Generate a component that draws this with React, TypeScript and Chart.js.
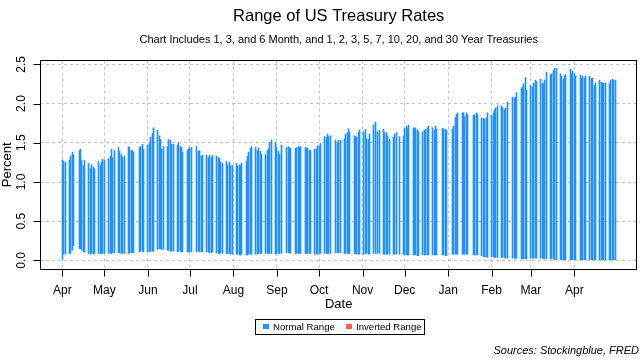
import React, { useEffect, useRef } from "react";
import { Chart, registerables } from "chart.js";

Chart.register(...registerables);

// ---- Data ----
const months: [number, number][] = [
  [2020, 4], [2020, 5], [2020, 6], [2020, 7], [2020, 8], [2020, 9], [2020, 10],
  [2020, 11], [2020, 12], [2021, 1], [2021, 2], [2021, 3], [2021, 4],
];

const tradingDays: number[][] = [
  [1, 2, 3, 6, 7, 8, 9, 13, 14, 15, 16, 17, 20, 21, 22, 23, 24, 27, 28, 29, 30],
  [1, 4, 5, 6, 7, 8, 11, 12, 13, 14, 15, 18, 19, 20, 21, 22, 26, 27, 28, 29],
  [1, 2, 3, 4, 5, 8, 9, 10, 11, 12, 15, 16, 17, 18, 19, 22, 23, 24, 25, 26, 29, 30],
  [1, 2, 6, 7, 8, 9, 10, 13, 14, 15, 16, 17, 20, 21, 22, 23, 24, 27, 28, 29, 30, 31],
  [3, 4, 5, 6, 7, 10, 11, 12, 13, 14, 17, 18, 19, 20, 21, 24, 25, 26, 27, 28, 31],
  [1, 2, 3, 4, 8, 9, 10, 11, 14, 15, 16, 17, 18, 21, 22, 23, 24, 25, 28, 29, 30],
  [1, 2, 5, 6, 7, 8, 9, 13, 14, 15, 16, 19, 20, 21, 22, 23, 26, 27, 28, 29, 30],
  [2, 3, 4, 5, 6, 9, 10, 12, 13, 16, 17, 18, 19, 20, 23, 24, 25, 27, 30],
  [1, 2, 3, 4, 7, 8, 9, 10, 11, 14, 15, 16, 17, 18, 21, 22, 23, 24, 28, 29, 30, 31],
  [4, 5, 6, 7, 8, 11, 12, 13, 14, 15, 19, 20, 21, 22, 25, 26, 27, 28, 29],
  [1, 2, 3, 4, 5, 8, 9, 10, 11, 12, 16, 17, 18, 19, 22, 23, 24, 25, 26],
  [1, 2, 3, 4, 5, 8, 9, 10, 11, 12, 15, 16, 17, 18, 19, 22, 23, 24, 25, 26, 29, 30, 31],
  [1, 2, 5, 6, 7, 8, 9, 12, 13, 14, 15, 16, 19, 20, 21, 22, 23, 26, 27, 28, 29, 30],
];

const highRates: number[][] = [
  [1.28, 1.26, 1.25, 1.28, 1.33, 1.38, 1.35, 1.40, 1.42, 1.28, 1.21, 1.28, 1.24, 1.17, 1.22, 1.19, 1.17, 1.26, 1.21, 1.25, 1.29],
  [1.28, 1.30, 1.33, 1.42, 1.31, 1.40, 1.44, 1.39, 1.35, 1.31, 1.33, 1.45, 1.44, 1.40, 1.40, 1.38, 1.44, 1.45, 1.48, 1.42],
  [1.47, 1.49, 1.57, 1.62, 1.69, 1.66, 1.59, 1.54, 1.42, 1.45, 1.45, 1.54, 1.53, 1.48, 1.48, 1.47, 1.50, 1.45, 1.44, 1.38, 1.40, 1.42],
  [1.44, 1.44, 1.45, 1.39, 1.40, 1.33, 1.34, 1.34, 1.31, 1.34, 1.31, 1.34, 1.33, 1.31, 1.30, 1.25, 1.24, 1.26, 1.22, 1.25, 1.21, 1.21],
  [1.24, 1.20, 1.22, 1.21, 1.24, 1.26, 1.33, 1.38, 1.43, 1.45, 1.44, 1.40, 1.43, 1.39, 1.35, 1.35, 1.40, 1.42, 1.50, 1.53, 1.50],
  [1.44, 1.39, 1.35, 1.47, 1.44, 1.45, 1.44, 1.43, 1.43, 1.44, 1.45, 1.44, 1.45, 1.44, 1.43, 1.43, 1.40, 1.40, 1.42, 1.42, 1.46],
  [1.46, 1.49, 1.58, 1.57, 1.61, 1.58, 1.59, 1.53, 1.50, 1.53, 1.53, 1.55, 1.61, 1.63, 1.68, 1.64, 1.59, 1.58, 1.57, 1.63, 1.66],
  [1.64, 1.67, 1.55, 1.54, 1.61, 1.73, 1.76, 1.64, 1.66, 1.67, 1.63, 1.63, 1.59, 1.54, 1.57, 1.61, 1.63, 1.58, 1.59],
  [1.68, 1.71, 1.68, 1.73, 1.69, 1.68, 1.69, 1.66, 1.64, 1.64, 1.66, 1.67, 1.69, 1.71, 1.69, 1.66, 1.71, 1.67, 1.68, 1.68, 1.67, 1.66],
  [1.67, 1.71, 1.82, 1.86, 1.88, 1.88, 1.88, 1.83, 1.88, 1.86, 1.85, 1.85, 1.88, 1.86, 1.81, 1.81, 1.80, 1.82, 1.88],
  [1.85, 1.88, 1.92, 1.94, 1.97, 1.97, 1.95, 1.92, 1.94, 2.02, 2.08, 2.07, 2.08, 2.14, 2.19, 2.21, 2.25, 2.33, 2.17],
  [2.23, 2.21, 2.26, 2.30, 2.28, 2.31, 2.26, 2.25, 2.30, 2.40, 2.37, 2.38, 2.42, 2.45, 2.45, 2.38, 2.35, 2.31, 2.35, 2.37, 2.44, 2.38, 2.41],
  [2.38, 2.35, 2.36, 2.32, 2.35, 2.32, 2.35, 2.35, 2.32, 2.32, 2.23, 2.26, 2.30, 2.27, 2.26, 2.26, 2.26, 2.25, 2.30, 2.31, 2.30, 2.30],
];

const lowRates: number[][] = [
  [0.01, 0.08, 0.08, 0.09, 0.09, 0.13, 0.19, 0.15, 0.15, 0.13, 0.11, 0.11, 0.09, 0.08, 0.09, 0.08, 0.09, 0.09, 0.09, 0.09, 0.09],
  [0.09, 0.09, 0.09, 0.09, 0.10, 0.10, 0.10, 0.10, 0.09, 0.09, 0.09, 0.09, 0.10, 0.10, 0.10, 0.10, 0.11, 0.12, 0.12, 0.11],
  [0.11, 0.11, 0.12, 0.12, 0.12, 0.14, 0.15, 0.15, 0.14, 0.14, 0.13, 0.13, 0.12, 0.12, 0.12, 0.11, 0.12, 0.12, 0.11, 0.11, 0.11, 0.11],
  [0.11, 0.11, 0.11, 0.12, 0.11, 0.11, 0.11, 0.11, 0.11, 0.10, 0.10, 0.11, 0.10, 0.09, 0.09, 0.10, 0.09, 0.09, 0.09, 0.09, 0.08, 0.08],
  [0.08, 0.08, 0.07, 0.07, 0.08, 0.07, 0.07, 0.08, 0.08, 0.08, 0.08, 0.08, 0.09, 0.09, 0.09, 0.09, 0.09, 0.09, 0.09, 0.09, 0.08],
  [0.09, 0.09, 0.09, 0.09, 0.10, 0.10, 0.10, 0.09, 0.09, 0.09, 0.09, 0.09, 0.09, 0.09, 0.09, 0.09, 0.09, 0.09, 0.08, 0.08, 0.08],
  [0.09, 0.09, 0.09, 0.09, 0.09, 0.09, 0.09, 0.10, 0.10, 0.10, 0.10, 0.09, 0.09, 0.09, 0.09, 0.09, 0.09, 0.09, 0.08, 0.08, 0.08],
  [0.08, 0.09, 0.09, 0.08, 0.08, 0.09, 0.09, 0.09, 0.09, 0.08, 0.08, 0.08, 0.08, 0.08, 0.08, 0.08, 0.08, 0.08, 0.08],
  [0.07, 0.07, 0.07, 0.07, 0.07, 0.07, 0.07, 0.06, 0.06, 0.07, 0.07, 0.07, 0.07, 0.07, 0.07, 0.07, 0.07, 0.07, 0.07, 0.07, 0.06, 0.06],
  [0.08, 0.08, 0.08, 0.08, 0.08, 0.08, 0.08, 0.08, 0.08, 0.08, 0.07, 0.07, 0.07, 0.07, 0.06, 0.05, 0.05, 0.05, 0.04],
  [0.05, 0.05, 0.04, 0.04, 0.04, 0.04, 0.04, 0.04, 0.03, 0.03, 0.03, 0.03, 0.03, 0.03, 0.02, 0.02, 0.02, 0.02, 0.02],
  [0.03, 0.03, 0.03, 0.03, 0.03, 0.03, 0.03, 0.02, 0.02, 0.02, 0.02, 0.02, 0.02, 0.01, 0.01, 0.01, 0.01, 0.01, 0.01, 0.01, 0.01, 0.01, 0.01],
  [0.01, 0.01, 0.01, 0.01, 0.01, 0.01, 0.01, 0.01, 0.01, 0.01, 0.00, 0.00, 0.00, 0.00, 0.00, 0.00, 0.00, 0.01, 0.01, 0.01, 0.00, 0.00],
];

const monthTickLabels = ["Apr", "May", "Jun", "Jul", "Aug", "Sep", "Oct", "Nov", "Dec", "Jan", "Feb", "Mar", "Apr"];
const yTickValues = [0, 0.5, 1.0, 1.5, 2.0, 2.5];

const TITLE = "Range of US Treasury Rates";
const SUBTITLE = "Chart Includes 1, 3, and 6 Month, and 1, 2, 3, 5, 7, 10, 20, and 30 Year Treasuries";
const SOURCE = "Sources: Stockingblue, FRED";

const NORMAL_COLOR = "#1E90FF";
const INVERTED_COLOR = "#FF6347";
const GRID_COLOR = "#c4c4c4";
const FONT = "'Liberation Sans', Arial, Helvetica, sans-serif";

// ---- helpers ----
const ORIGIN = Date.UTC(2020, 3, 1);
const dayIndex = (y: number, m: number, d: number) =>
  Math.round((Date.UTC(y, m - 1, d) - ORIGIN) / 86400000);

const points: { x: number; y: [number, number] }[] = [];
months.forEach(([y, m], i) => {
  tradingDays[i].forEach((d, j) => {
    points.push({ x: dayIndex(y, m, d), y: [lowRates[i][j], highRates[i][j]] });
  });
});
const barColors = points.map((p) => (p.y[0] <= p.y[1] ? NORMAL_COLOR : INVERTED_COLOR));

const tickDays = months.map(([y, m]) => dayIndex(y, m, 1));

// R-style 4% axis extension
const xs = points.map((p) => p.x);
const xLo = Math.min(...xs);
const xHi = Math.max(...xs);
const xPad = (xHi - xLo) * 0.04;
const allLows = lowRates.flat();
const allHighs = highRates.flat();
const yLo = Math.min(...allLows) - 0.01;
const yHi = Math.max(...allHighs);
const yPad = (yHi - yLo) * 0.04;

// snap each 1px bar onto a whole pixel column, like the R device does
const snapPlugin = {
  id: "snapBars",
  beforeDatasetsDraw(chart: any) {
    chart.getDatasetMeta(0).data.forEach((el: any) => {
      el.x = Math.floor(el.x) + 0.5;
    });
  },
};

const decorPlugin = {
  id: "rDecor",
  afterDraw(chart: any) {
    const ctx: CanvasRenderingContext2D = chart.ctx;
    const a = chart.chartArea;
    const sx = chart.scales.x;
    const sy = chart.scales.y;
    const cx = (a.left + a.right) / 2;
    ctx.save();
    ctx.fillStyle = "#000";
    ctx.strokeStyle = "#000";
    ctx.lineWidth = 1;
    ctx.setLineDash([]);

    // box
    const L = Math.floor(a.left) + 0.5;
    const T = Math.floor(a.top) + 0.5;
    const R = Math.floor(a.right) - 0.5;
    const B = Math.floor(a.bottom) + 0.5;
    ctx.strokeRect(L, T, R - L, B - T);

    // x ticks + labels
    ctx.font = `12px ${FONT}`;
    ctx.textAlign = "center";
    ctx.textBaseline = "middle";
    tickDays.forEach((v, i) => {
      const px = Math.round(sx.getPixelForValue(v)) + 0.5;
      ctx.beginPath();
      ctx.moveTo(px, B);
      ctx.lineTo(px, B + 7);
      ctx.stroke();
      ctx.fillText(monthTickLabels[i], sx.getPixelForValue(v), 291);
    });

    // y ticks + rotated labels
    yTickValues.forEach((v) => {
      const py = Math.round(sy.getPixelForValue(v)) + 0.5;
      ctx.beginPath();
      ctx.moveTo(L, py);
      ctx.lineTo(L - 7, py);
      ctx.stroke();
      ctx.save();
      ctx.translate(22, sy.getPixelForValue(v));
      ctx.rotate(-Math.PI / 2);
      ctx.fillText(v.toFixed(1), 0, 0);
      ctx.restore();
    });

    // axis titles
    ctx.font = `13px ${FONT}`;
    ctx.fillText("Date", cx, 304);
    ctx.save();
    ctx.translate(7.5, (a.top + a.bottom) / 2);
    ctx.rotate(-Math.PI / 2);
    ctx.fillText("Percent", 0, 0);
    ctx.restore();

    // titles
    ctx.font = `16.5px ${FONT}`;
    ctx.fillText(TITLE, cx, 16);
    ctx.font = `11px ${FONT}`;
    ctx.fillText(SUBTITLE, cx, 39.5);

    // legend
    ctx.strokeRect(255.5, 319.5, 169, 15);
    ctx.fillStyle = NORMAL_COLOR;
    ctx.fillRect(263, 324, 6, 5);
    ctx.fillStyle = INVERTED_COLOR;
    ctx.fillRect(346, 324, 6, 5);
    ctx.fillStyle = "#000";
    ctx.font = `9.6px ${FONT}`;
    ctx.textAlign = "left";
    ctx.fillText(chart.data.datasets[0].label, 273, 327.5);
    ctx.fillText("Inverted Range", 356, 327.5);

    // sources
    ctx.font = `italic 11px ${FONT}`;
    ctx.textAlign = "right";
    ctx.fillText(SOURCE, 639, 350.5);
    ctx.restore();
  },
};

export default function App() {
  const ref = useRef<HTMLCanvasElement | null>(null);
  useEffect(() => {
    if (!ref.current) return;
    const chart = new Chart(ref.current, {
      type: "bar",
      data: {
        datasets: [
          {
            label: "Normal Range",
            data: points as any,
            backgroundColor: barColors,
            barThickness: 1,
            borderWidth: 0,
            borderSkipped: false,
          } as any,
        ],
      },
      options: {
        animation: false,
        responsive: false,
        maintainAspectRatio: false,
        devicePixelRatio: 1,
        layout: { padding: { left: 40.2, right: 2.8, top: 60.5, bottom: 91 } },
        plugins: {
          legend: { display: false },
          title: { display: false },
          tooltip: { enabled: false },
        },
        scales: {
          x: {
            type: "linear",
            min: xLo - xPad,
            max: xHi + xPad,
            offset: false,
            afterBuildTicks: (s: any) => {
              s.ticks = tickDays.map((v) => ({ value: v }));
            },
            afterFit: (s: any) => {
              s.height = 0;
            },
            ticks: { display: false },
            grid: { color: GRID_COLOR, drawTicks: false, lineWidth: 1, offset: false },
            border: { display: false, dash: [3, 3] },
          },
          y: {
            type: "linear",
            min: yLo - yPad,
            max: yHi + yPad,
            afterBuildTicks: (s: any) => {
              s.ticks = yTickValues.map((v) => ({ value: v }));
            },
            afterFit: (s: any) => {
              s.width = 0;
            },
            ticks: { display: false },
            grid: { color: GRID_COLOR, drawTicks: false, lineWidth: 1 },
            border: { display: false, dash: [3, 3] },
          },
        } as any,
      },
      plugins: [snapPlugin, decorPlugin],
    });
    return () => chart.destroy();
  }, []);

  return (
    <div style={{ position: "fixed", left: 0, top: 0, width: 640, height: 360, background: "#fff" }}>
      <canvas ref={ref} width={640} height={360} style={{ display: "block", width: 640, height: 360 }} />
    </div>
  );
}
